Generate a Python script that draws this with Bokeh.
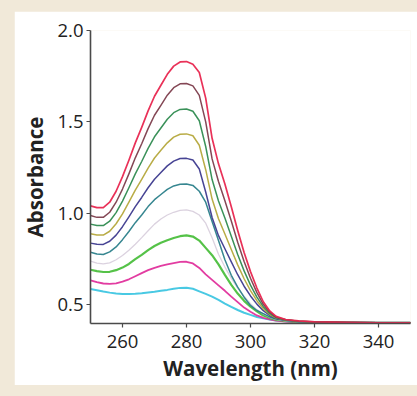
from bokeh.plotting import figure
from bokeh.models import FixedTicker, Range1d, GlobalInlineStyleSheet
from bokeh.embed import file_html
from bokeh.resources import INLINE

# ---- data ----
wavelength = [250, 252, 254, 256, 258, 260, 262, 264, 266, 268, 270, 272, 274, 276, 278, 280,
              282, 284, 286, 288, 290, 292, 294, 296, 298, 300, 302, 304, 306, 308,
              311, 315, 320, 330, 340, 350]

abs_red = [1.04, 1.03, 1.03, 1.06, 1.12, 1.20, 1.29, 1.385, 1.47, 1.56, 1.64, 1.70, 1.76, 1.805, 1.828, 1.83,
           1.815, 1.77, 1.63, 1.41, 1.27, 1.16, 1.035, 0.905, 0.785, 0.68, 0.59, 0.515, 0.465, 0.435,
           0.418, 0.41, 0.405, 0.402, 0.40, 0.40]
abs_brown = [0.987, 0.977, 0.977, 1.005, 1.06, 1.132, 1.215, 1.303, 1.38, 1.463, 1.536, 1.59, 1.646, 1.687, 1.708, 1.71,
             1.697, 1.645, 1.50, 1.297, 1.173, 1.068, 0.957, 0.841, 0.735, 0.644, 0.565, 0.501, 0.458, 0.431,
             0.417, 0.409, 0.405, 0.402, 0.40, 0.40]
abs_green = [0.94, 0.932, 0.932, 0.956, 1.003, 1.066, 1.139, 1.215, 1.283, 1.355, 1.418, 1.466, 1.514, 1.55, 1.568, 1.57,
             1.558, 1.506, 1.365, 1.184, 1.067, 0.973, 0.874, 0.774, 0.684, 0.606, 0.54, 0.488, 0.451, 0.428,
             0.416, 0.408, 0.404, 0.402, 0.40, 0.40]
abs_olive = [0.887, 0.88, 0.88, 0.901, 0.942, 0.996, 1.06, 1.126, 1.185, 1.247, 1.302, 1.344, 1.385, 1.416, 1.432, 1.434,
             1.424, 1.372, 1.238, 1.077, 0.969, 0.886, 0.801, 0.717, 0.641, 0.576, 0.521, 0.477, 0.445, 0.426,
             0.415, 0.408, 0.404, 0.402, 0.40, 0.40]
abs_blue = [0.836, 0.83, 0.829, 0.846, 0.88, 0.926, 0.98, 1.036, 1.086, 1.139, 1.186, 1.223, 1.259, 1.285, 1.299, 1.30,
            1.291, 1.242, 1.116, 0.976, 0.877, 0.805, 0.733, 0.663, 0.60, 0.547, 0.502, 0.466, 0.44, 0.423,
            0.414, 0.407, 0.404, 0.402, 0.40, 0.40]
abs_teal = [0.786, 0.776, 0.774, 0.788, 0.815, 0.855, 0.90, 0.948, 0.99, 1.036, 1.074, 1.102, 1.13, 1.149, 1.158, 1.16,
            1.152, 1.12, 1.06, 0.955, 0.85, 0.745, 0.66, 0.595, 0.54, 0.495, 0.467, 0.45, 0.432, 0.42,
            0.412, 0.406, 0.403, 0.401, 0.40, 0.40]
abs_gray = [0.737, 0.727, 0.722, 0.728, 0.745, 0.768, 0.797, 0.83, 0.866, 0.904, 0.94, 0.968, 0.99, 1.005, 1.015, 1.018,
            1.01, 0.99, 0.945, 0.865, 0.775, 0.705, 0.643, 0.59, 0.545, 0.504, 0.472, 0.448, 0.43, 0.418,
            0.41, 0.405, 0.402, 0.40, 0.40, 0.40]
abs_lime = [0.69, 0.683, 0.678, 0.679, 0.688, 0.702, 0.722, 0.748, 0.772, 0.798, 0.82, 0.838, 0.852, 0.864, 0.874, 0.878,
            0.872, 0.85, 0.81, 0.77, 0.72, 0.662, 0.607, 0.56, 0.52, 0.488, 0.463, 0.44, 0.427, 0.417,
            0.41, 0.405, 0.402, 0.40, 0.40, 0.40]
abs_magenta = [0.632, 0.622, 0.615, 0.613, 0.616, 0.625, 0.638, 0.655, 0.672, 0.688, 0.701, 0.712, 0.72, 0.727, 0.733, 0.734,
               0.725, 0.70, 0.665, 0.635, 0.605, 0.575, 0.543, 0.513, 0.483, 0.46, 0.44, 0.427, 0.418, 0.412,
               0.407, 0.404, 0.402, 0.40, 0.40, 0.40]
abs_cyan = [0.585, 0.578, 0.571, 0.565, 0.56, 0.557, 0.557, 0.559, 0.562, 0.566, 0.57, 0.575, 0.58, 0.586, 0.591, 0.592,
            0.586, 0.572, 0.558, 0.543, 0.525, 0.505, 0.487, 0.47, 0.455, 0.443, 0.432, 0.424, 0.418, 0.413,
            0.408, 0.404, 0.402, 0.40, 0.40, 0.40]

x_ticks = [260, 280, 300, 320, 340]
y_ticks = [0.5, 1.0, 1.5, 2.0]
y_tick_labels = ["0.5", "1.0", "1.5", "2.0"]

# ---- styles ----
series = [
    (abs_cyan, "#3fc6e2", 2.0),
    (abs_magenta, "#e0329c", 1.8),
    (abs_lime, "#4cbf3e", 2.2),
    (abs_gray, "#d9d0dd", 1.3),
    (abs_teal, "#2b7f8a", 1.5),
    (abs_blue, "#3d3a8e", 1.5),
    (abs_olive, "#b5a83c", 1.5),
    (abs_green, "#2f8b50", 1.5),
    (abs_brown, "#7d3d4c", 1.5),
    (abs_red, "#e8264f", 1.7),
]

BEIGE = "#f1e9d9"
FONT = "Open Sans"

p = figure(width=403, height=374, output_backend="svg", toolbar_location=None,
           x_range=Range1d(250, 350), y_range=Range1d(0.396, 2.0),
           min_border_left=76, min_border_right=7, min_border_top=19, min_border_bottom=62)
p.stylesheets = [GlobalInlineStyleSheet(css=f"body{{margin:0 !important;padding:11px 0 0 14px;background:{BEIGE};}}")]

p.background_fill_color = "white"
p.border_fill_color = "white"
p.outline_line_color = None
p.xgrid.grid_line_color = None
p.ygrid.grid_line_color = None

for vals, col, w in series:
    p.line(wavelength, vals, line_color=col, line_width=w, line_alpha=0.95, line_join="round")

for ax in (p.xaxis[0], p.yaxis[0]):
    ax.axis_line_color = "#4a4a4a"
    ax.axis_line_width = 1.6
    ax.major_tick_line_color = "#4a4a4a"
    ax.major_tick_line_width = 1.2
    ax.major_tick_out = 4
    ax.major_tick_in = 0
    ax.minor_tick_line_color = None
    ax.major_label_text_font = FONT
    ax.major_label_text_font_size = "18.5px"
    ax.major_label_text_color = "#222222"
    ax.axis_label_text_font = FONT
    ax.axis_label_text_font_size = "20.5px"
    ax.axis_label_text_font_style = "bold"
    ax.axis_label_text_color = "#222222"

p.xaxis.ticker = FixedTicker(ticks=x_ticks)
p.yaxis.ticker = FixedTicker(ticks=y_ticks)
p.yaxis.major_label_overrides = {t: s for t, s in zip(y_ticks, y_tick_labels)}
p.xaxis.axis_label = "Wavelength (nm)"
p.yaxis.axis_label = "Absorbance"
p.xaxis.major_label_standoff = 7
p.yaxis.major_label_standoff = 3
p.xaxis.axis_label_standoff = 3
p.yaxis.axis_label_standoff = 5

open("out.html", "w").write(file_html(p, INLINE))
